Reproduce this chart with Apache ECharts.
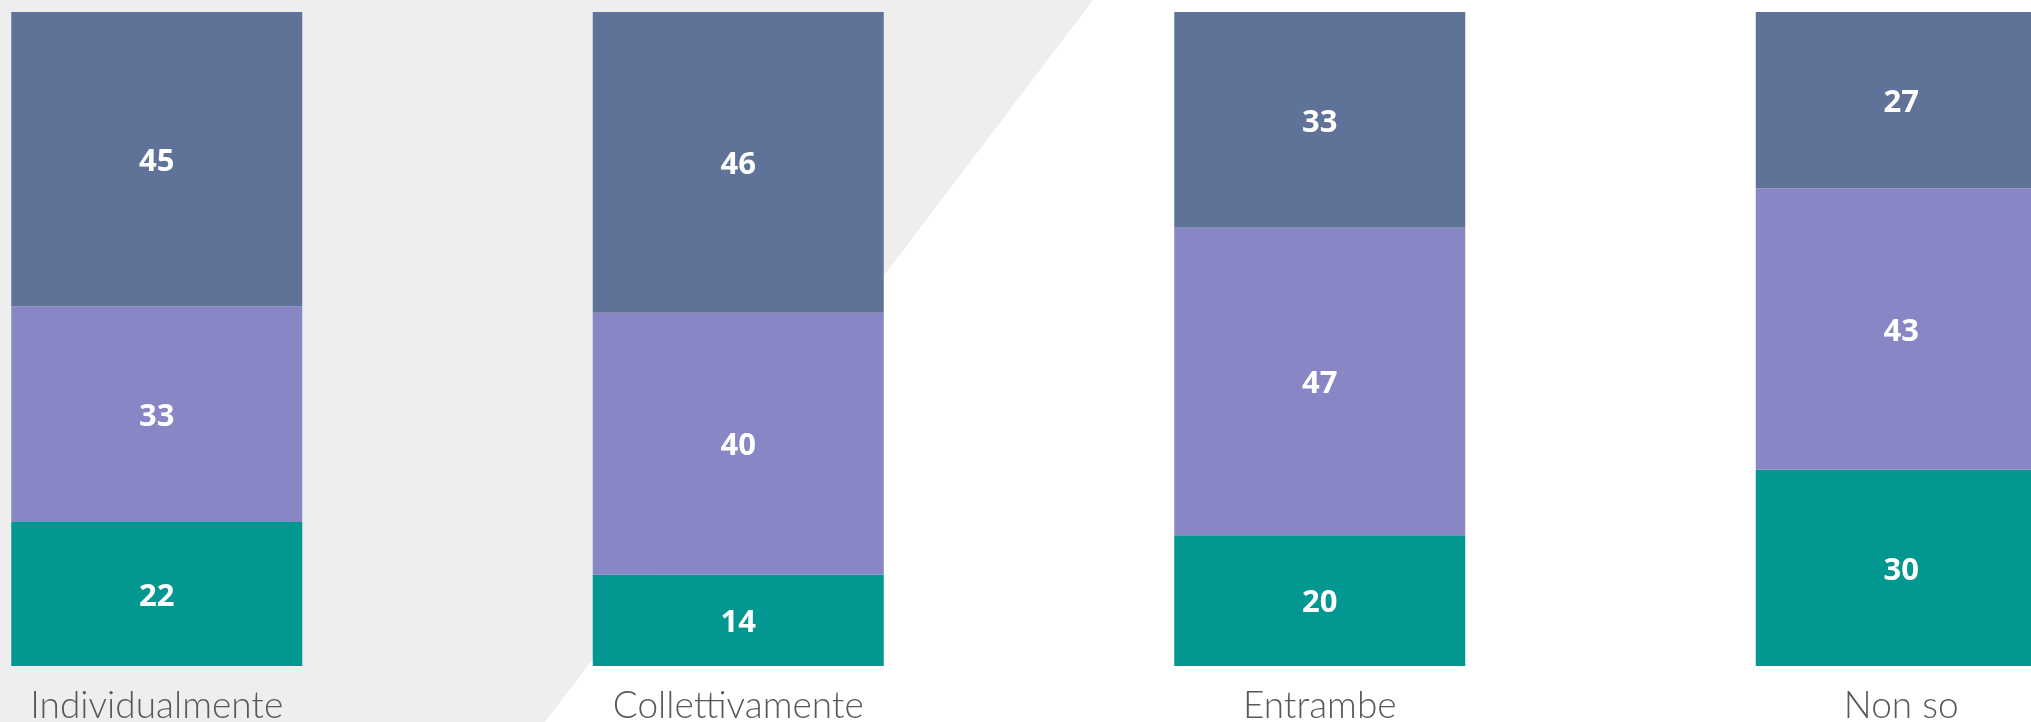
<!DOCTYPE html>
<html lang="it">
<head>
    <meta charset="UTF-8">
    <title>Individualmente / Collettivamente</title>
    <script src="https://cdn.jsdelivr.net/npm/echarts@6.0.0/dist/echarts.min.js"></script>
    <style>
        html, body { margin: 0; padding: 0; background: #ffffff; }
    </style>
</head>
<body>
    <!-- chart container, same size as the window -->
    <div id="main" style="width: 2031px;height:722px;"></div>
    <script type="text/javascript">
      // categories on the x axis
      var categories = ["Individualmente", "Collettivamente", "Entrambe", "Non so"];

      // stacked values, bottom to top (each column sums to 100)
      var serieTeal   = [22, 14, 20, 30];
      var seriePurple = [33, 40, 47, 43];
      var serieBlue   = [45, 46, 33, 27];

      var colors = ["#029891", "#8886c5", "#5f7399"];

      var myChart = echarts.init(document.getElementById('main'));

      // common style of the white numbers inside the bars
      var valueLabel = {
        show: true,
        position: 'inside',
        offset: [0, 3],
        color: '#ffffff',
        fontFamily: '"Open Sans", sans-serif',
        fontWeight: 'bold',
        fontSize: 31
      };

      function makeSeries(name, data, color) {
        return {
          name: name,
          type: 'bar',
          stack: 'tot',
          barWidth: 291,
          data: data,
          itemStyle: { color: color },
          label: valueLabel,
          emphasis: { disabled: true }
        };
      }

      var option = {
        backgroundColor: '#ffffff',
        animation: false,
        // light grey slanted panel behind the first two columns
        graphic: [
          {
            type: 'polygon',
            z: -10,
            silent: true,
            shape: { points: [[0, 0], [1093, 0], [545, 722], [0, 722]] },
            style: { fill: '#eeeeee' }
          }
        ],
        grid: {
          left: -134,
          width: 2326,
          top: 12,
          bottom: 56,
          outerBoundsMode: 'none'
        },
        xAxis: {
          type: 'category',
          data: categories,
          axisLine: { show: false },
          axisTick: { show: false },
          axisLabel: {
            margin: 22,
            color: '#595959',
            fontFamily: 'Lato, sans-serif',
            fontWeight: 300,
            fontSize: 37
          }
        },
        yAxis: {
          type: 'value',
          min: 0,
          max: 100,
          show: false
        },
        series: [
          makeSeries('serie 1', serieTeal, colors[0]),
          makeSeries('serie 2', seriePurple, colors[1]),
          makeSeries('serie 3', serieBlue, colors[2])
        ]
      };

      myChart.setOption(option);
    </script>
</body>
</html>
